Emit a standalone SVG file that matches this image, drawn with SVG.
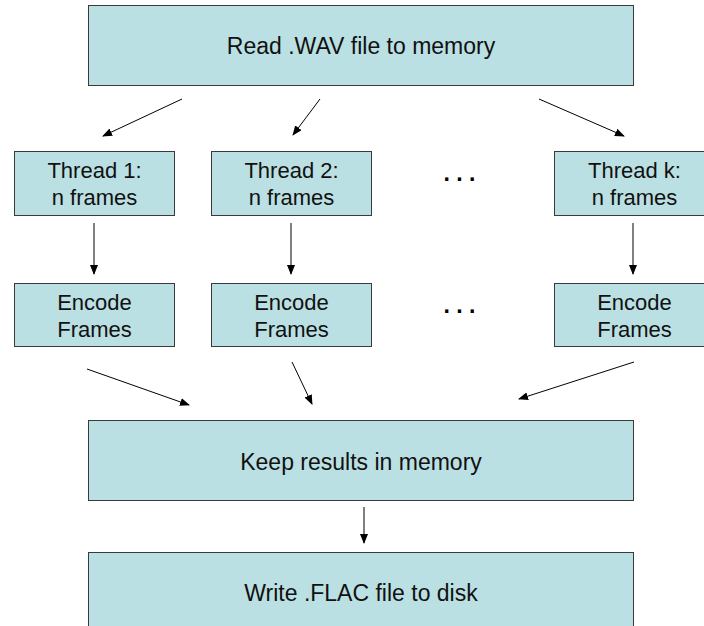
<svg xmlns="http://www.w3.org/2000/svg" width="704" height="626" viewBox="0 0 704 626">
<style>
.box{fill:#BBE0E3;stroke:#3a3a3a;stroke-width:1}
.t{font-family:"Liberation Sans",Arial,sans-serif;font-size:22px;fill:#111;text-anchor:middle}
.tl{font-family:"Liberation Sans",Arial,sans-serif;font-size:23px;fill:#111;text-anchor:middle}
.dots{font-family:"Liberation Sans",Arial,sans-serif;font-size:23px;font-weight:bold;fill:#000;text-anchor:middle}
.c{stroke:#000;stroke-width:1;fill:none;marker-end:url(#ah)}
</style>
<defs>
<marker id="ah" markerUnits="userSpaceOnUse" markerWidth="10" markerHeight="8" refX="9" refY="4" orient="auto">
<path d="M0,0 L10,4 L0,8 z" fill="#000"/>
</marker>
</defs>
<rect width="704" height="626" fill="#fff"/>
<g id="read">
<rect class="box" x="88.5" y="5.5" width="545" height="80"/>
<text class="tl" x="361" y="54">Read .WAV file to memory</text>
</g>
<g id="thread1">
<rect class="box" x="14.5" y="151.5" width="160" height="64"/>
<text class="t" x="94.5" y="178">Thread 1:</text>
<text class="t" x="94.5" y="205">n frames</text>
</g>
<g id="thread2">
<rect class="box" x="211.5" y="151.5" width="160" height="64"/>
<text class="t" x="291.5" y="178">Thread 2:</text>
<text class="t" x="291.5" y="205">n frames</text>
</g>
<g id="threadk">
<rect class="box" x="554.5" y="151.5" width="160" height="64"/>
<text class="t" x="634.5" y="178">Thread k:</text>
<text class="t" x="634.5" y="205">n frames</text>
</g>
<g id="dots1"><text class="dots" x="459.5" y="181">. . .</text></g>
<g id="encode1">
<rect class="box" x="14.5" y="283.5" width="160" height="63"/>
<text class="t" x="94.5" y="310">Encode</text>
<text class="t" x="94.5" y="337">Frames</text>
</g>
<g id="encode2">
<rect class="box" x="211.5" y="283.5" width="160" height="63"/>
<text class="t" x="291.5" y="310">Encode</text>
<text class="t" x="291.5" y="337">Frames</text>
</g>
<g id="encodek">
<rect class="box" x="554.5" y="283.5" width="160" height="63"/>
<text class="t" x="634.5" y="310">Encode</text>
<text class="t" x="634.5" y="337">Frames</text>
</g>
<g id="dots2"><text class="dots" x="459.5" y="313">. . .</text></g>
<g id="keep">
<rect class="box" x="88.5" y="420.5" width="545" height="80"/>
<text class="tl" x="361" y="470">Keep results in memory</text>
</g>
<g id="write">
<rect class="box" x="88.5" y="552.5" width="545" height="90"/>
<text class="tl" x="361" y="601">Write .FLAC file to disk</text>
</g>
<g id="connectors">
<line class="c" x1="182" y1="99" x2="103" y2="136"/>
<line class="c" x1="320" y1="99" x2="293" y2="135"/>
<line class="c" x1="539" y1="99" x2="624" y2="136"/>
<line class="c" x1="94" y1="223" x2="94" y2="274"/>
<line class="c" x1="291" y1="223" x2="291" y2="274"/>
<line class="c" x1="633" y1="223" x2="633" y2="274"/>
<line class="c" x1="87" y1="369" x2="189" y2="405"/>
<line class="c" x1="292" y1="362" x2="312" y2="404"/>
<line class="c" x1="634" y1="362" x2="519" y2="399"/>
<line class="c" x1="364" y1="507" x2="364" y2="543"/>
</g>
</svg>
